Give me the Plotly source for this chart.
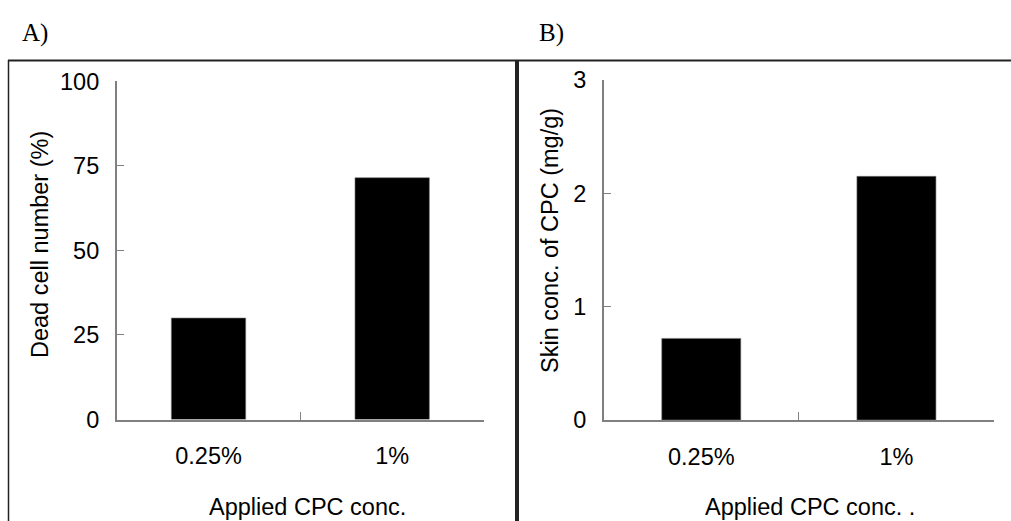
import plotly.graph_objects as go

categories = ["0.25%", "1%"]
dead_cells = [30.0, 71.5]
skin_conc = [0.72, 2.15]
y_ticks_a = [0, 25, 50, 75, 100]
y_ticks_b = [0, 1, 2, 3]

W, H = 1011, 521
def px(x):
    return x / W
def py(y):
    return 1 - y / H

FONT = "Liberation Sans, Arial, sans-serif"
FS = 23.5
AX = "#808080"

fig = go.Figure()
fig.add_trace(go.Bar(x=categories, y=dead_cells, marker=dict(color="black", line=dict(color="#777", width=0.6)),
                     xaxis="x", yaxis="y", showlegend=False))
fig.add_trace(go.Bar(x=categories, y=skin_conc, marker=dict(color="black", line=dict(color="#777", width=0.6)),
                     xaxis="x2", yaxis="y2", showlegend=False))

xcommon = dict(type="category", range=[-0.5, 1.5], showline=True, linecolor=AX, linewidth=1.5,
               ticks="inside", tickson="boundaries", ticklen=8, tickcolor=AX, tickwidth=1.3,
               showgrid=False, zeroline=False, tickfont=dict(family=FONT, size=FS, color="black"),
               ticklabelstandoff=15, automargin=False, fixedrange=True)
ycommon = dict(showline=True, linecolor=AX, linewidth=1.5, ticks="inside", ticklen=8, tickcolor=AX,
               tickwidth=1.3, showgrid=False, zeroline=False, automargin=False,
               tickfont=dict(family=FONT, size=FS, color="black"), ticklabelstandoff=11)

fig.update_layout(
    template="none",
    width=W, height=H, margin=dict(l=0, r=0, t=0, b=0, pad=0), autosize=False,
    paper_bgcolor="white", plot_bgcolor="white", bargap=0.595,
    xaxis=dict(domain=[px(116.7), px(484)], anchor="y", **xcommon),
    yaxis=dict(domain=[py(419.5), py(81.3)], anchor="x", range=[0, 100], tickvals=y_ticks_a, **ycommon),
    xaxis2=dict(domain=[px(603.7), px(994)], anchor="y2", **xcommon),
    yaxis2=dict(domain=[py(420), py(80)], anchor="x2", range=[0, 3], tickvals=y_ticks_b, **ycommon),
)

ann = [
    dict(text="A)", x=px(20), y=py(33), xanchor="left", yanchor="middle",
         font=dict(family="Liberation Serif, Times New Roman, serif", size=25, color="black")),
    dict(text="B)", x=px(537), y=py(33), xanchor="left", yanchor="middle",
         font=dict(family="Liberation Serif, Times New Roman, serif", size=25, color="black")),
    dict(text="Dead cell number (%)", x=px(40), y=py(245), textangle=-90, xanchor="center", yanchor="middle",
         font=dict(family=FONT, size=FS, color="black")),
    dict(text="Skin conc. of CPC (mg/g)", x=px(550), y=py(241), textangle=-90, xanchor="center", yanchor="middle",
         font=dict(family=FONT, size=FS, color="black")),
    dict(text="Applied CPC conc.", x=px(307), y=py(507), xanchor="center", yanchor="middle",
         font=dict(family=FONT, size=FS, color="black")),
    dict(text="Applied CPC conc. .", x=px(810), y=py(507), xanchor="center", yanchor="middle",
         font=dict(family=FONT, size=FS, color="black")),
]
for a in ann:
    a.update(xref="paper", yref="paper", showarrow=False)
fig.update_layout(annotations=ann)

shapes = [
    dict(type="line", x0=px(8.5), x1=px(8.5), y0=0, y1=py(60), line=dict(color="#222", width=1.5)),
    dict(type="line", x0=px(8), x1=1, y0=py(60.5), y1=py(60.5), line=dict(color="#222", width=2)),
    dict(type="line", x0=px(517), x1=px(517), y0=0, y1=py(60), line=dict(color="#222", width=4)),
]
for s in shapes:
    s.update(xref="paper", yref="paper")
fig.update_layout(shapes=shapes)

fig.write_html("out.html")
